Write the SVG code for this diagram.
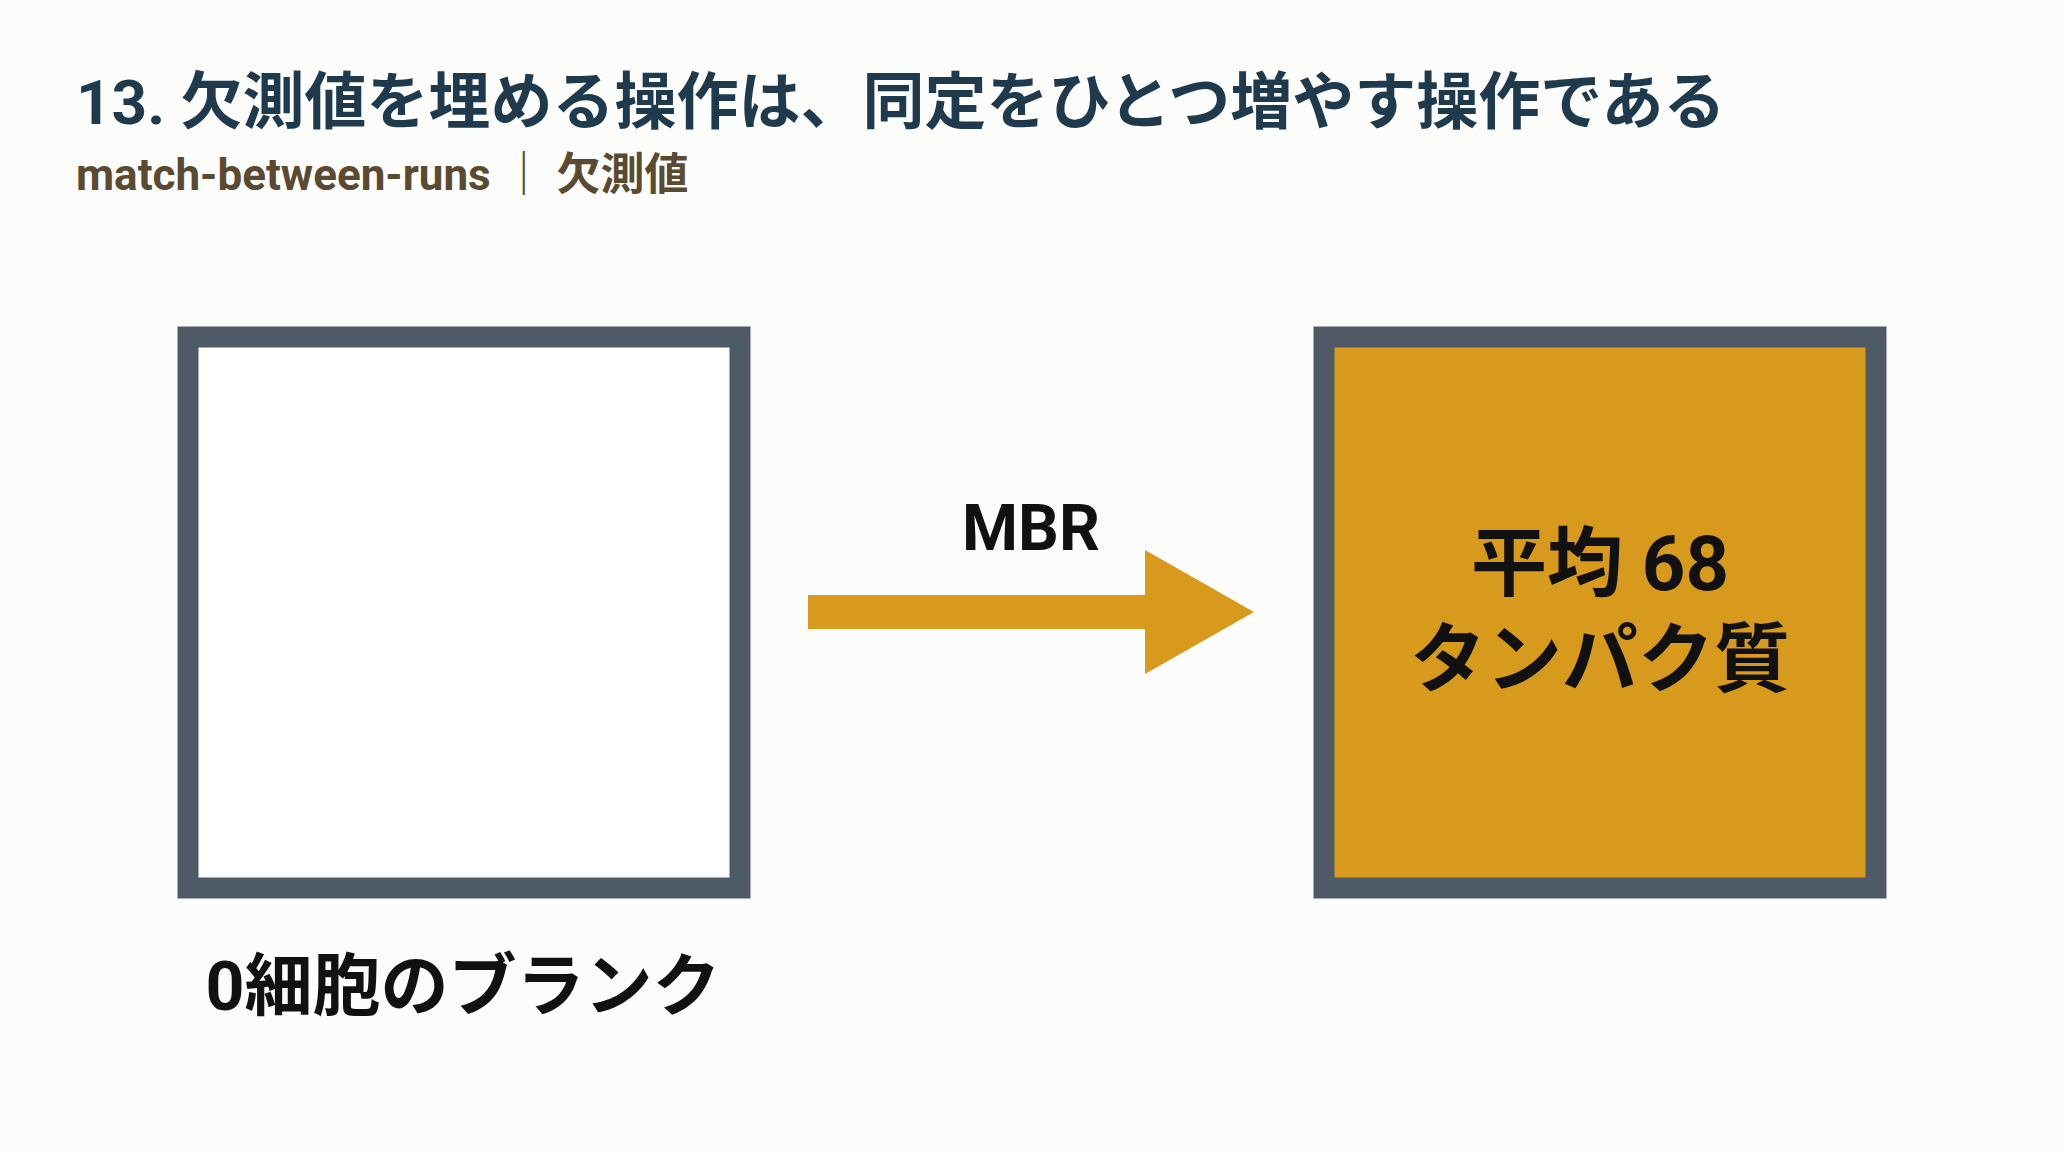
<svg xmlns="http://www.w3.org/2000/svg" width="2064" height="1152" viewBox="0 0 2064 1152">
<style>
.t{font-family:"Roboto","Noto Sans CJK JP",sans-serif;font-weight:bold}
.box{stroke:#4e5a66;stroke-width:21}
</style>
<rect width="2064" height="1152" fill="#fcfcfb"/>
<text class="t" x="76" y="124" font-size="62" fill="#1e3a4c">13. 欠測値を埋める操作は、同定をひとつ増やす操作である</text>
<text class="t" x="76" y="190" font-size="44" fill="#5b4a32">match-between-runs ｜ 欠測値</text>
<g id="blank">
<rect class="box" x="188" y="337" width="552" height="551" fill="#ffffff"/>
<text class="t" x="463" y="1010" font-size="68" text-anchor="middle" fill="#111">0細胞のブランク</text>
</g>
<g id="connectors">
<polygon points="808,595 1145,595 1145,550 1254,612 1145,674 1145,629 808,629" fill="#d89a1c"/>
<text class="t" x="1031" y="550" font-size="64" text-anchor="middle" fill="#111">MBR</text>
</g>
<g id="proteins">
<rect class="box" x="1324" y="337" width="552" height="551" fill="#d89a1c"/>
<text class="t" x="1600" y="590" font-size="76" text-anchor="middle" fill="#111">平均 68</text>
<text class="t" x="1600" y="686" font-size="76" text-anchor="middle" fill="#111">タンパク質</text>
</g>
</svg>
